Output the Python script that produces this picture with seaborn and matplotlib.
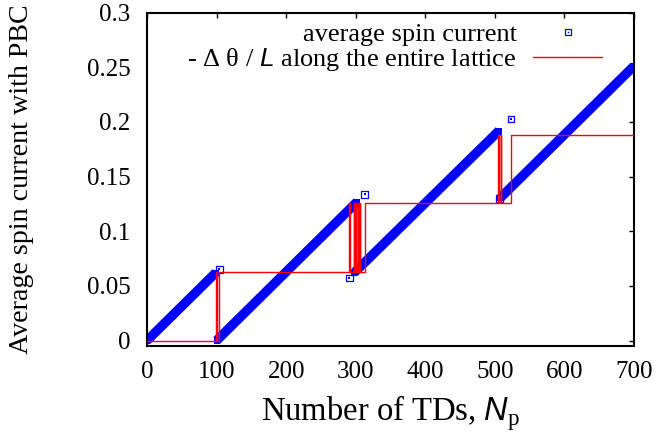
import matplotlib
matplotlib.use("Agg")
import matplotlib.pyplot as plt
import seaborn as sns
from matplotlib.lines import Line2D
from matplotlib.legend_handler import HandlerTuple

# Straight runs of the average spin current: start/end N_p and current value
run_start_n = [0, 100, 298, 508]
run_end_n = [99, 302, 506, 700]
run_start_j = [0.0, 0.0, 0.0622, 0.1307]
run_end_j = [0.0622, 0.1270, 0.1921, 0.2513]

# Isolated spin-current samples next to the phase slips
iso_n = [104, 291, 313, 507, 523]
iso_j = [0.0653, 0.0571, 0.1338, 0.1299, 0.2028]

# -Δθ/L: N_p where the phase winding changes and the level from there on
phase_n = [0, 99, 100, 103.5, 291, 292, 297, 298, 299.5, 300, 300.5, 301,
           303, 304, 305.5, 306.5, 313, 505, 506, 508.5, 509.5, 523, 700]
phase_level = [0.0, 0.0628, 0.0, 0.0628, 0.1257, 0.0628, 0.1257, 0.0628,
               0.1257, 0.0628, 0.1257, 0.0628, 0.1257, 0.0628, 0.1257, 0.0628,
               0.1257, 0.1885, 0.1257, 0.1885, 0.1257, 0.1885, 0.1885]

x_ticks = [0, 100, 200, 300, 400, 500, 600, 700]
y_ticks = [0, 0.05, 0.1, 0.15, 0.2, 0.25, 0.3]
y_tick_labels = ["0", "0.05", "0.1", "0.15", "0.2", "0.25", "0.3"]

sns.set_style("white")
plt.rcParams["font.family"] = ["Liberation Serif", "DejaVu Serif"]
plt.rcParams["mathtext.fontset"] = "custom"
plt.rcParams["mathtext.rm"] = "Liberation Serif"
plt.rcParams["mathtext.it"] = "Liberation Sans:italic"
for key in ("text.color", "axes.labelcolor", "xtick.color", "ytick.color",
            "axes.edgecolor"):
    plt.rcParams[key] = "black"

BLUE = "#0000ff"
RED = "#ff0000"
FS = 18

fig = plt.figure(figsize=(6.61, 4.40), dpi=100)
ax = fig.add_axes([0.2224, 0.2136, 0.7368, 0.7575])

# blue bands, one per run of the spin current
for n0, n1, j0, j1 in zip(run_start_n, run_end_n, run_start_j, run_end_j):
    sns.lineplot(x=[n0, n1], y=[j0, j1], ax=ax, color=BLUE, linewidth=6.8,
                 solid_capstyle="butt", estimator=None, sort=False,
                 marker="s", markersize=4.9, markeredgewidth=0,
                 markerfacecolor=BLUE, zorder=2, legend=False)

# isolated open squares with a centre dot
sns.scatterplot(x=iso_n, y=iso_j, ax=ax, marker="s", s=4.8 ** 2,
                facecolor="none", edgecolor=BLUE, linewidth=0.9, zorder=3,
                legend=False)
sns.scatterplot(x=iso_n, y=iso_j, ax=ax, marker="s", s=1.0,
                color=BLUE, linewidth=0, zorder=3, legend=False)

# -Δθ/L step line
sns.lineplot(x=phase_n, y=phase_level, ax=ax, color=RED, linewidth=1.0,
             drawstyle="steps-post", estimator=None, sort=False, zorder=4,
             legend=False)

ax.set_xlim(0, 700)
ax.set_ylim(-0.005, 0.3)
ax.set_xticks(x_ticks)
ax.set_xticklabels([str(t) for t in x_ticks])
ax.set_yticks(y_ticks)
ax.set_yticklabels(y_tick_labels)
ax.tick_params(axis="both", direction="in", length=3.6, width=1.0,
               top=True, right=True, labelsize=FS, colors="black")
ax.tick_params(axis="x", pad=11)
ax.tick_params(axis="y", pad=12)
for sp in ax.spines.values():
    sp.set_visible(True)
    sp.set_color("black")
    sp.set_linewidth(1.5)

ax.set_xlabel(r"Number of TDs, $\mathit{N}_{\mathrm{p}}$", fontsize=23.5)
ax.set_ylabel("Average spin current with PBC", fontsize=20.2)
ax.xaxis.set_label_coords(0.5, -0.143)
ax.yaxis.set_label_coords(-0.232, 0.502)

square_open = Line2D([], [], ls="none", marker="s", markersize=4.8,
                     markerfacecolor="none", markeredgecolor=BLUE,
                     markeredgewidth=0.9)
square_dot = Line2D([], [], ls="none", marker="s", markersize=1.0,
                    markerfacecolor=BLUE, markeredgewidth=0)
red_line = Line2D([], [], color=RED, linewidth=1.0)
ax.legend([(square_open, square_dot), red_line],
          ["average spin current", r"- Δ θ / $\mathit{L}$ along the entire lattice"],
          handler_map={tuple: HandlerTuple(ndivide=1)},
          loc="upper right", bbox_to_anchor=(0.934, 0.971), frameon=False,
          markerfirst=False, numpoints=1, handlelength=2.6, handletextpad=0.62,
          labelspacing=0.0, borderpad=0, borderaxespad=0, fontsize=19)

fig.savefig("out.png", dpi=100)
